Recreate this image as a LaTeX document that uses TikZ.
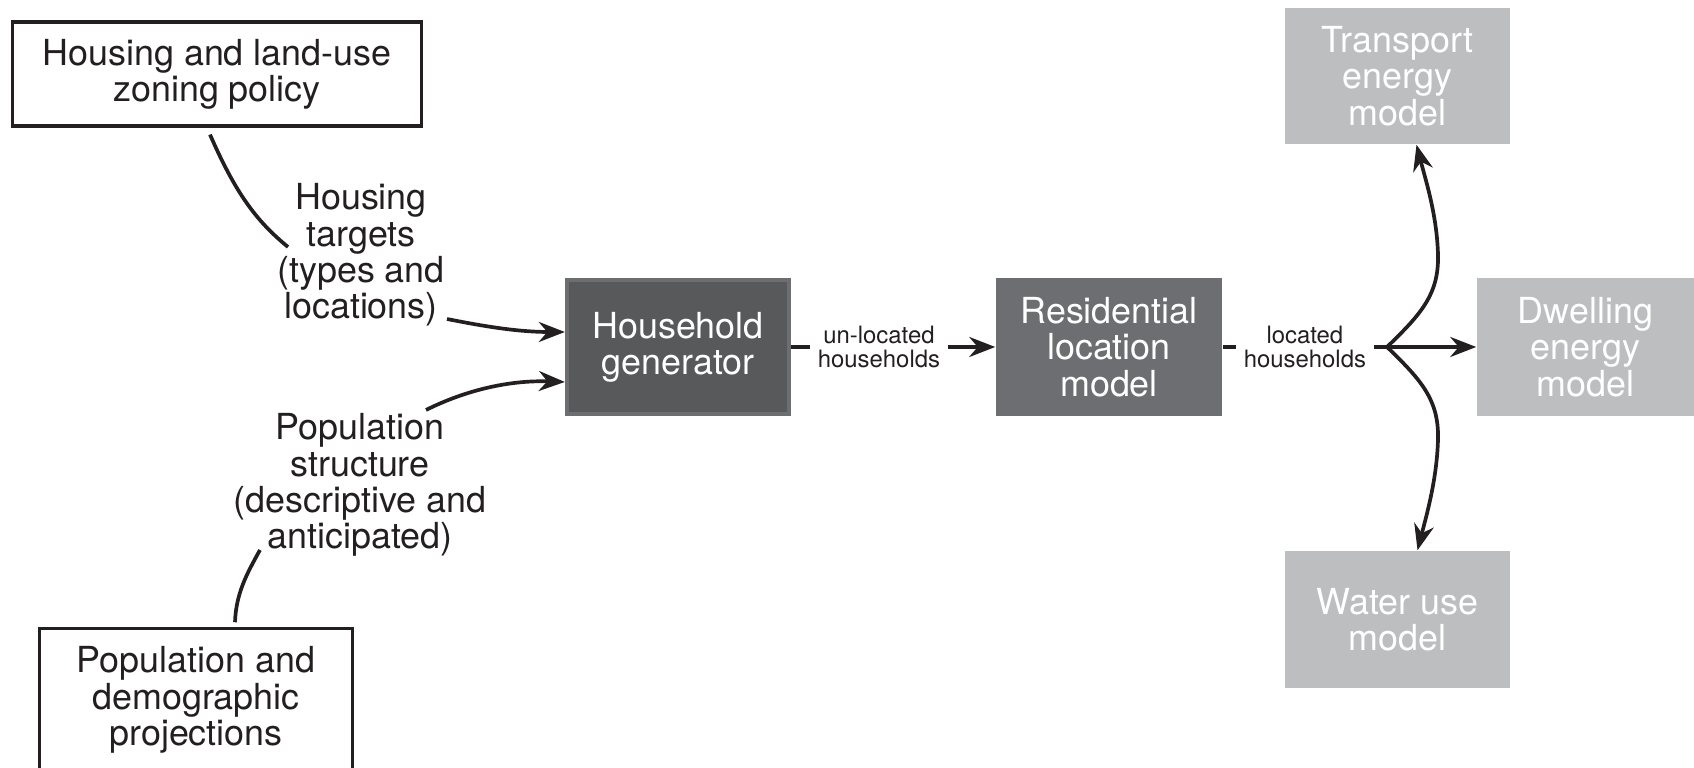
\documentclass[tikz,border=0pt]{standalone}
\usepackage{fontspec}
\setmainfont{TeX Gyre Heros}
\usetikzlibrary{arrows.meta}
\usetikzlibrary{calc}
\definecolor{ink}{HTML}{231F20}
\definecolor{darkbox}{HTML}{58595B}
\definecolor{midbox}{HTML}{6D6E71}
\definecolor{lightbox}{HTML}{BCBEC0}
\tikzset{txt/.style = {align=center, inner sep=0pt, text=ink,
                       font=\fontsize{10.2}{10.3}\selectfont},
         small/.style = {align=center, inner sep=2.3pt, fill=white, text=ink,
                         font=\fontsize{6.8}{6.6}\selectfont},
         inbox/.style = {txt, draw=ink, line width=0.9pt},
         model/.style = {txt, text=white, fill=#1},
         link/.style = {draw=ink, line width=1.05pt},
         arr/.style = {link, -{Stealth[length=0.26cm, width=0.2cm, inset=0.085cm]}}}

\begin{document}
\begin{tikzpicture}[x=0.01cm, y=-0.01cm]
    \path [use as bounding box, clip] (0, 0) rectangle (1694, 768);

    % inputs
    \node [inbox, minimum width=4.08cm, minimum height=1.04cm] (policy) at (217, 74)
          {Housing and land-use\\zoning policy};
    \node [txt, minimum width=3.12cm, minimum height=1.38cm] (pop) at (196, 700)
          {Population and\\demographic\\projections};
    \draw [ink, line width=0.9pt] ([yshift=-1cm]pop.south west) |- ($(pop.north east)+(0, -2)$)
          -- ([yshift=-1cm]pop.south east);

    \node [txt] (tgt) at (361, 255) {Housing\\targets\\(types and\\locations)};
    \node [txt] (struct) at (360, 485) {Population\\structure\\(descriptive and\\anticipated)};

    % models
    \node [model=darkbox, draw=midbox, line width=1.2pt,
           minimum width=2.22cm, minimum height=1.34cm] (hh) at (678, 347)
          {Household\\generator};
    \node [model=midbox, minimum width=2.26cm, minimum height=1.37cm] (res) at (1109, 347)
          {Residential\\location\\model};
    \node [model=lightbox, minimum width=2.25cm, minimum height=1.36cm] (trans) at (1397.5, 76)
          {Transport\\energy\\model};
    \node [model=lightbox, minimum width=2.17cm, minimum height=1.37cm] (dwell) at (1585.5, 347)
          {Dwelling\\energy\\model};
    \node [model=lightbox, minimum width=2.25cm, minimum height=1.37cm] (water) at (1397.5, 619.5)
          {Water use\\model};

    \coordinate (split) at (1387, 347);

    % connectors
    \draw [link] ($(policy.south)+(-7, 7)$) .. controls +(25, 57) and +(-33, -27)
          .. ($(tgt.center)+(-73, -8)$);
    \draw [arr] ($(tgt.center)+(86, 64)$) .. controls +(40, 8) and +(-45, 0)
          .. ($(hh.west)+(0, -15)$);
    \draw [arr] ($(struct.center)+(66, -75)$) .. controls +(40, -20) and +(-55, -2)
          .. ($(hh.west)+(0, 35)$);
    \draw [link] ($(pop.north)+(39, -8)$) .. controls +(1, -28) and +(-14, 25)
          .. ($(struct.center)+(-100, 65)$);

    \draw [arr] (hh.east) -- node [small, pos=0.43] {un-located\\households} (res.west);
    \draw [link] (res.east) -- node [small, pos=0.5] {located\\households} (split);
    \draw [arr] (split) -- (dwell.west);
    \draw [arr] (split) .. controls +(33, -32) and +(1, 40) .. (1438, 255)
          .. controls +(-1, -40) and +(9, 35) .. ([xshift=0.19cm]trans.south);
    \draw [arr] (split) .. controls +(33, 32) and +(1, -40) .. (1438, 439)
          .. controls +(-1, 40) and +(9, -35) .. ([xshift=0.2cm]water.north);
  \end{tikzpicture}
\end{document}
